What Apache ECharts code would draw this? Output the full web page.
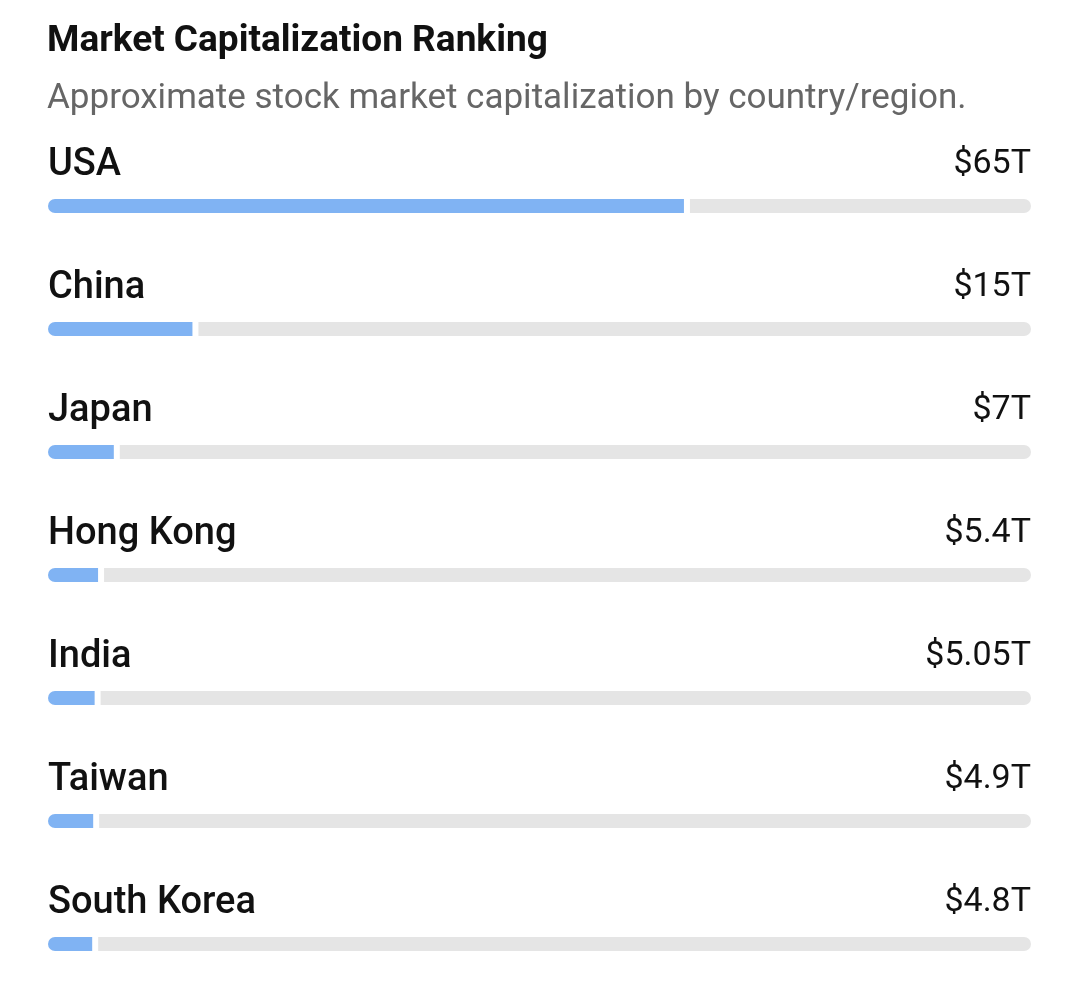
<!DOCTYPE html>
<html>
<head>
<meta charset="utf-8">
<style>
  html, body { margin: 0; padding: 0; background: #ffffff; }
  #chart { width: 1080px; height: 985px; }
</style>
<script src="https://cdn.jsdelivr.net/npm/echarts@6/dist/echarts.min.js"></script>
</head>
<body>
<div id="chart"></div>
<script>
const countries = ['USA', 'China', 'Japan', 'Hong Kong', 'India', 'Taiwan', 'South Korea'];
const capTrillions = [65, 15, 7, 5.4, 5.05, 4.9, 4.8];
const scaleMax = 100;

const chart = echarts.init(document.getElementById('chart'));
const FONT = 'Roboto, "Noto Sans", sans-serif';

chart.setOption({
  backgroundColor: '#ffffff',
  animation: false,
  title: {
    text: 'Market Capitalization Ranking',
    subtext: 'Approximate stock market capitalization by country/region.',
    left: 42,
    top: 18,
    itemGap: 22,
    textStyle: { fontFamily: FONT, fontSize: 37, fontWeight: 'bold', color: '#111111' },
    subtextStyle: { fontFamily: FONT, fontSize: 35, fontWeight: 'normal', color: '#666666' }
  },
  grid: { left: 48, right: 49, top: 206, bottom: 41 },
  xAxis: { type: 'value', min: 0, max: scaleMax, show: false },
  yAxis: { type: 'category', data: countries, inverse: true, boundaryGap: false, show: false },
  series: [{
    type: 'custom',
    data: capTrillions.map((v, i) => [v, i]),
    renderItem: function (params, api) {
      const v = api.value(0);
      const idx = api.value(1);
      const p0 = api.coord([0, idx]);
      const pv = api.coord([v, idx]);
      const pm = api.coord([scaleMax, idx]);
      const h = 14, r = 7, half = 3;
      const y = p0[1] - h / 2;
      return {
        type: 'group',
        children: [
          {
            type: 'rect',
            shape: { x: p0[0], y: y, width: pv[0] - half - p0[0], height: h, r: [r, 0, 0, r] },
            style: { fill: '#80b3f3' }
          },
          {
            type: 'rect',
            shape: { x: pv[0] + half, y: y, width: pm[0] - pv[0] - half, height: h, r: [0, r, r, 0] },
            style: { fill: '#e5e5e5' }
          },
          {
            type: 'text',
            x: p0[0],
            y: p0[1] - 41,
            style: {
              text: countries[idx],
              fontFamily: FONT, fontSize: 38, fontWeight: 500, fill: '#111111',
              align: 'left', verticalAlign: 'middle'
            }
          },
          {
            type: 'text',
            x: pm[0],
            y: p0[1] - 42,
            style: {
              text: '$' + v + 'T',
              fontFamily: FONT, fontSize: 34, fontWeight: 'normal', fill: '#111111',
              align: 'right', verticalAlign: 'middle'
            }
          }
        ]
      };
    }
  }]
});
</script>
</body>
</html>
